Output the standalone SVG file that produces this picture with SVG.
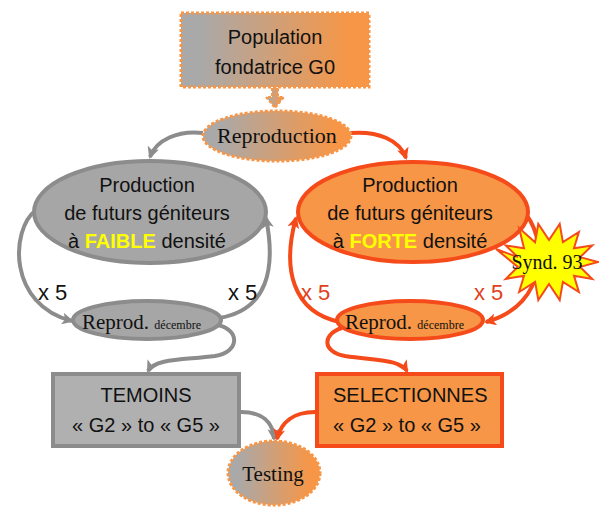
<svg xmlns="http://www.w3.org/2000/svg" width="599" height="507" viewBox="0 0 599 507">
<defs>
<linearGradient id="gr" x1="0" y1="0" x2="1" y2="0">
<stop offset="0.1" stop-color="#a9a9a9"/>
<stop offset="0.9" stop-color="#f79646"/>
</linearGradient>
<marker id="ag" viewBox="0 0 12 12" refX="10" refY="6" markerWidth="12" markerHeight="12" markerUnits="userSpaceOnUse" orient="auto">
<path d="M0,0 L12,6 L0,12 L3,6 Z" fill="#8c8c8c"/>
</marker>
<marker id="ao" viewBox="0 0 12 12" refX="10" refY="6" markerWidth="12" markerHeight="12" markerUnits="userSpaceOnUse" orient="auto">
<path d="M0,0 L12,6 L0,12 L3,6 Z" fill="#f54a1a"/>
</marker>
</defs>
<style>
.g{fill:none;stroke:#8c8c8c;stroke-width:4}
.o{fill:none;stroke:#f54a1a;stroke-width:4}
.grad{fill:url(#gr);stroke:#f79646;stroke-width:3;stroke-dasharray:3 2}
.sans{font-family:"Liberation Sans","DejaVu Sans",sans-serif;font-size:20px;fill:#111}
.serif{font-family:"Liberation Serif","DejaVu Serif",serif;fill:#111}
.gray{fill:#a6a6a6;stroke:#8c8c8c;stroke-width:4}
.org{fill:#f79646;stroke:#f54a1a;stroke-width:4}
.x5{font-family:"Liberation Sans","DejaVu Sans",sans-serif;font-size:22px;fill:#111}
.x5o{font-family:"Liberation Sans","DejaVu Sans",sans-serif;font-size:22px;fill:#e0401a}
</style>
<g id="connectors">
<path d="M272,88 L272,97 L266,97 L275,108 L284,97 L278,97 L278,88 Z" fill="url(#gr)" stroke="#f79646" stroke-width="2" stroke-dasharray="3 2"/>
<path class="g" d="M203,133 C178,130 156,140 150,157" marker-end="url(#ag)"/>
<path class="o" d="M351,133 C378,131 400,140 406,158" marker-end="url(#ao)"/>
<path class="g" d="M36,210 C10,230 8,305 72,321" marker-end="url(#ag)"/>
<path class="g" d="M219,318 C268,310 276,268 266,218" marker-end="url(#ag)"/>
<path class="g" d="M218,325 C240,330 240,352 215,356 C185,360 155,358 148,371" marker-end="url(#ag)"/>
<path class="o" d="M522,210 C548,235 550,305 486,322" marker-end="url(#ao)"/>
<path class="o" d="M340,322 C292,312 282,268 296,218" marker-end="url(#ao)"/>
<path class="o" d="M342,328 C322,334 322,352 345,356 C380,361 400,360 407,371" marker-end="url(#ao)"/>
<path class="g" d="M241,412 C262,412 273,422 274,439" marker-end="url(#ag)"/>
<path class="o" d="M315,412 C294,412 281,422 277,439" marker-end="url(#ao)"/>
</g>
<g id="population">
<rect class="grad" x="181" y="13" width="188" height="74"/>
<text class="sans" x="275" y="44" text-anchor="middle" font-size="21">Population</text>
<text class="sans" x="275" y="74" text-anchor="middle" font-size="21">fondatrice G0</text>
</g>
<g id="reproduction">
<ellipse class="grad" cx="277" cy="136" rx="74" ry="25"/>
<text class="serif" x="277" y="143" text-anchor="middle" font-size="22">Reproduction</text>
</g>
<g id="prod-faible">
<ellipse class="gray" cx="150" cy="212" rx="116" ry="51"/>
<text class="sans" x="147" y="192" text-anchor="middle">Production</text>
<text class="sans" x="147" y="220" text-anchor="middle">de futurs géniteurs</text>
<text class="sans" x="147" y="248" text-anchor="middle">à <tspan fill="#ffff00" font-weight="bold">FAIBLE</tspan> densité</text>
</g>
<g id="prod-forte">
<ellipse class="org" cx="413" cy="212" rx="115" ry="50"/>
<text class="sans" x="410" y="192" text-anchor="middle">Production</text>
<text class="sans" x="410" y="220" text-anchor="middle">de futurs géniteurs</text>
<text class="sans" x="410" y="248" text-anchor="middle">à <tspan fill="#ffff00" font-weight="bold">FORTE</tspan> densité</text>
</g>
<g id="labels">
<text class="x5" x="38" y="300">x 5</text>
<text class="x5" x="228" y="300">x 5</text>
<text class="x5o" x="301" y="300">x 5</text>
<text class="x5o" x="474" y="300">x 5</text>
</g>
<g id="reprod-left">
<ellipse class="gray" cx="147" cy="320" rx="74" ry="19"/>
<text class="serif" x="82" y="329" font-size="21">Reprod. <tspan font-size="12">décembre</tspan></text>
</g>
<g id="reprod-right">
<ellipse class="org" cx="410" cy="320" rx="73" ry="19"/>
<text class="serif" x="345" y="329" font-size="21">Reprod. <tspan font-size="12">décembre</tspan></text>
</g>
<g id="synd93">
<polygon points="598,262 580.2,266.9 592.2,279 574,275.7 578.9,292 562.9,281.8 559.7,300 549,284 538.3,300 535.1,281.8 519.1,292 524,275.7 505.8,279 517.8,266.9 496,249 517.8,257.1 505.8,245.5 524,248.3 519.1,228 535.1,242.2 538.3,224 549,240 559.7,224 562.9,242.2 578.9,232 574,248.3 592.2,245.5 580.2,257.1" fill="#ffff00" stroke="#f54a1a" stroke-width="2"/>
<text class="serif" x="547" y="269" text-anchor="middle" font-size="20">Synd. 93</text>
</g>
<g id="temoins">
<rect class="gray" x="53" y="374" width="186" height="72" style="fill:#b0b0b0"/>
<text class="sans" x="146" y="402" text-anchor="middle" font-size="21">TEMOINS</text>
<text class="sans" x="146" y="432" text-anchor="middle" font-size="21">« G2 » to « G5 »</text>
</g>
<g id="selectionnes">
<rect class="org" x="317" y="374" width="185" height="72"/>
<text class="sans" x="333" y="402" font-size="21">SELECTIONNES</text>
<text class="sans" x="333" y="432" font-size="21">« G2 » to « G5 »</text>
</g>
<g id="testing">
<ellipse class="grad" cx="274" cy="473" rx="46" ry="32"/>
<text class="serif" x="273" y="481" text-anchor="middle" font-size="21">Testing</text>
</g>
</svg>
